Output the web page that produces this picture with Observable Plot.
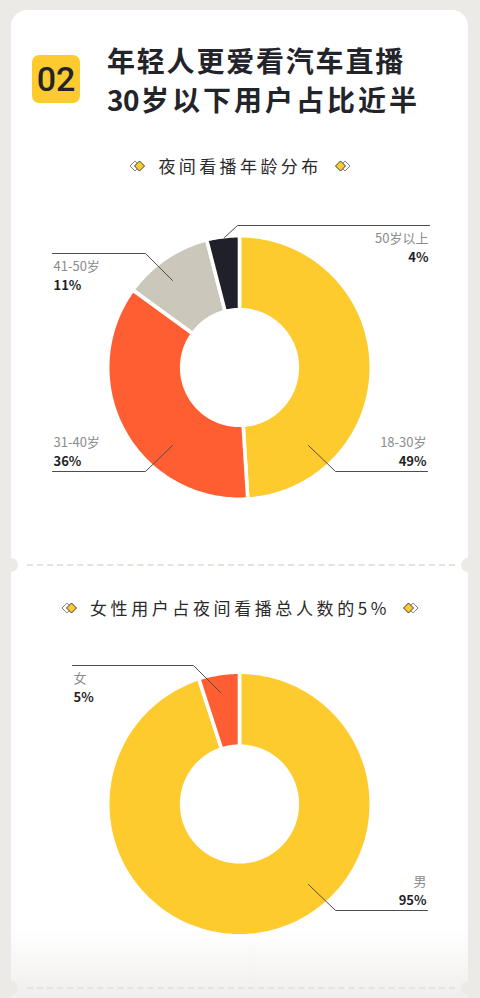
<!DOCTYPE html>
<html><head><meta charset="utf-8">
<script src="https://cdn.jsdelivr.net/npm/d3@7"></script>
<script src="https://cdn.jsdelivr.net/npm/@observablehq/plot@0.6"></script>
<style>
html,body{margin:0;padding:0;background:#ebeae6;}
#page{position:relative;width:480px;height:998px;overflow:hidden;background:#ebeae6;font-family:"Noto Sans CJK SC",sans-serif;}
.card{position:absolute;left:11px;top:10px;width:457px;height:1000px;background:#fff;border-radius:16px 16px 0 0;}
.fade{position:absolute;left:11px;top:930px;width:457px;height:68px;background:linear-gradient(#ffffff,#efeeec);}
.badge{position:absolute;left:32px;top:55px;width:48px;height:48px;border-radius:7px;background:#fecb2f;color:#23242a;font-family:Roboto,sans-serif;font-weight:500;font-size:34px;line-height:48px;text-align:center;}
.title{position:absolute;left:107px;color:#23242a;font-weight:700;font-size:28px;line-height:28px;white-space:nowrap;}
.sub{position:absolute;left:0;width:480px;display:flex;justify-content:center;align-items:center;color:#2a2a2a;font-size:17px;line-height:20px;white-space:nowrap;}
.sub .t{margin:0 12px;}
.chart{position:absolute;left:0;}
.tear{position:absolute;left:27px;width:428px;height:0;border-top:2px dashed #e6e3de;}
.notch{position:absolute;width:14px;height:14px;border-radius:7px;background:#ebeae6;}
</style></head>
<body>
<div id="page">
  <div class="card"></div>
  <div class="fade"></div>
  <div class="badge">02</div>
  <div class="title" id="t1" style="top:46px;letter-spacing:1.8px"></div>
  <div class="title" id="t2" style="top:85px"></div>
  <div class="sub" id="sub1" style="top:156px;"></div>
  <div class="chart" id="chart1" style="top:190px"></div>
  <div class="tear" style="top:564px"></div>
  <div class="notch" style="left:4px;top:558px"></div>
  <div class="notch" style="left:461px;top:558px"></div>
  <div class="sub" id="sub2" style="top:598px;"></div>
  <div class="chart" id="chart2" style="top:640px"></div>
  <div class="tear" style="top:987px"></div>
  <div class="notch" style="left:4px;top:981px"></div>
  <div class="notch" style="left:461px;top:981px"></div>
</div>
<script>
// ---- data ----
const titleLine1 = "年轻人更爱看汽车直播";
const titleLine2Num = "30";
const titleLine2Rest = "岁以下用户占比近半";
const ageTitle = "夜间看播年龄分布";
const ageCategories = ["18-30岁", "31-40岁", "41-50岁", "50岁以上"];
const ageShares = [49, 36, 11, 4];
const genderTitle = "女性用户占夜间看播总人数的5%";
const genderCategories = ["男", "女"];
const genderShares = [95, 5];

// ---- styles / layout ----
const ageColors = ["#fecb2f", "#ff5e33", "#cbc7bb", "#1f2029"];
const genderColors = ["#fecb2f", "#ff5e33"];
const ageLeaders = [
  {from: [69, 78], elbow: [96, 104], endX: 188, below: false},
  {from: [-67, 78], elbow: [-94, 104], endX: -187, below: false},
  {from: [-67, -87], elbow: [-94, -114], endX: -187, below: true},
  {from: [-15, -130], elbow: [-2, -142], endX: 190, below: true}
];
const genderLeaders = [
  {from: [69, 80.5], elbow: [96, 106.5], endX: 188, below: false},
  {from: [-19, -111.5], elbow: [-46, -138.5], endX: -167, below: true}
];

document.getElementById("t1").textContent = titleLine1;
document.getElementById("t2").innerHTML = `<span style="letter-spacing:-0.5px">${titleLine2Num}</span><span style="letter-spacing:3px;margin-left:2px">${titleLine2Rest}</span>`;

function icon(flip) {
  return `<svg width="17" height="12" viewBox="0 0 17 12" style="${flip ? "transform:scaleX(-1)" : ""}">
   <path d="M1 6 L6 1 L11 6 L6 11 Z" fill="#fff" stroke="#8a8a8a" stroke-width="1"/>
   <path d="M5.5 6 L10.5 1 L15.5 6 L10.5 11 Z" fill="#fecb2f" stroke="#3a3a3a" stroke-width="1"/>
  </svg>`;
}
document.getElementById("sub1").innerHTML = icon(false) + `<span class="t" style="letter-spacing:3.4px">${ageTitle}</span>` + icon(true);
document.getElementById("sub2").innerHTML = icon(false) + `<span class="t" style="letter-spacing:3.6px">${genderTitle}</span>` + icon(true);

function ringPoints(cats, vals, R, r) {
  const arcs = d3.pie().sort(null).value(d => d)(vals);
  const pts = [];
  arcs.forEach((p, i) => {
    const n = Math.max(4, Math.ceil((p.endAngle - p.startAngle) / (Math.PI / 180)));
    for (let k = 0; k <= n; k++) {
      const a = p.startAngle + (p.endAngle - p.startAngle) * k / n;
      pts.push({cat: cats[i], x: R * Math.sin(a), y: -R * Math.cos(a)});
    }
    for (let k = n; k >= 0; k--) {
      const a = p.startAngle + (p.endAngle - p.startAngle) * k / n;
      pts.push({cat: cats[i], x: r * Math.sin(a), y: -r * Math.cos(a)});
    }
    const a0 = p.startAngle;
    pts.push({cat: cats[i], x: R * Math.sin(a0), y: -R * Math.cos(a0)});
  });
  return pts;
}

function donut(cats, vals, colors, leaders, top, height) {
  const cx = 239, cy = (top === 190 ? 367 : 803.5);
  const ring = ringPoints(cats, vals, 131.8, 57.8);
  const lines = [];
  const labels = [];
  cats.forEach((c, i) => {
    const L = leaders[i];
    lines.push({cat: c, x: L.from[0], y: L.from[1]});
    lines.push({cat: c, x: L.elbow[0], y: L.elbow[1]});
    lines.push({cat: c, x: L.endX, y: L.elbow[1]});
    const right = L.endX > 0;
    const tx = right ? L.endX - 1 : L.endX + 1;
    const off = L.below ? [13, 32] : [-29, -10];
    labels.push({text: c, kind: "name", x: tx, y: L.elbow[1] + off[0], anchor: right ? "end" : "start"});
    labels.push({text: vals[i] + "%", kind: "pct", x: tx, y: L.elbow[1] + off[1], anchor: right ? "end" : "start"});
  });
  const names = labels.filter(d => d.kind === "name");
  const pcts = labels.filter(d => d.kind === "pct");
  return Plot.plot({
    width: 480, height,
    margin: 0,
    style: {background: "transparent", fontFamily: "'Noto Sans CJK SC', sans-serif"},
    x: {domain: [-cx, 480 - cx], range: [0, 480], axis: null},
    y: {domain: [top - cy, top + height - cy], range: [0, height], axis: null},
    color: {domain: cats, range: colors},
    marks: [
      Plot.line(ring, {x: "x", y: "y", z: "cat", fill: "cat", stroke: "#fff", strokeWidth: 3.6, strokeLinejoin: "round"}),
      Plot.line(lines, {x: "x", y: "y", z: "cat", stroke: "#4d4d4d", strokeWidth: 1}),
      Plot.text(names.filter(d => d.anchor === "end"), {x: "x", y: "y", text: "text", textAnchor: "end", fill: "#8c8c8c", fontSize: 13}),
      Plot.text(names.filter(d => d.anchor === "start"), {x: "x", y: "y", text: "text", textAnchor: "start", fill: "#8c8c8c", fontSize: 13}),
      Plot.text(pcts.filter(d => d.anchor === "end"), {x: "x", y: "y", text: "text", textAnchor: "end", fill: "#1f1f1f", fontSize: 13, fontWeight: 700}),
      Plot.text(pcts.filter(d => d.anchor === "start"), {x: "x", y: "y", text: "text", textAnchor: "start", fill: "#1f1f1f", fontSize: 13, fontWeight: 700})
    ]
  });
}

document.getElementById("chart1").append(donut(ageCategories, ageShares, ageColors, ageLeaders, 190, 360));
document.getElementById("chart2").append(donut(genderCategories, genderShares, genderColors, genderLeaders, 640, 320));
</script>
</body></html>
